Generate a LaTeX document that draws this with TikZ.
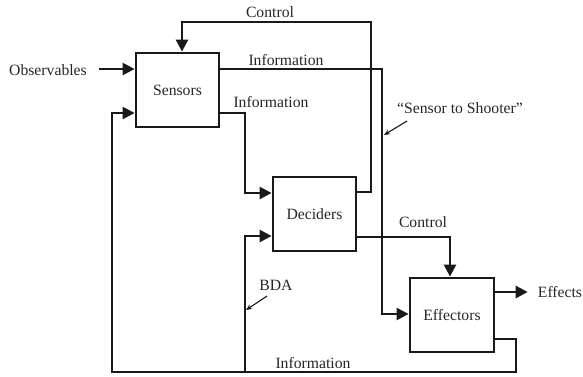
\documentclass[tikz,border=0pt]{standalone}
\usepackage{fontspec}
\setmainfont{Liberation Serif}
\usetikzlibrary{arrows.meta}
\begin{document}
\begin{tikzpicture}[x=1pt,y=-1pt,
  every node/.style={font=\fontsize{15.7}{18}\selectfont, text=black!85},
  blk/.style={draw=black!90, line width=2.8pt, minimum width=83pt, minimum height=74pt, inner sep=0pt},
  arr/.style={draw=black!90, line width=2.5pt, -{Triangle[length=12pt,width=12pt]}},
  ptr/.style={draw=black!90, line width=1.1pt, -{Stealth[length=6pt,width=5pt]}},
  lbl/.style={inner sep=0pt}]
\useasboundingbox (0,0) rectangle (583,376);
% blocks
\node[blk] (sens) at (177.5,90) {Sensors};
\node[blk] (deci) at (314.5,214) {Deciders};
\node[blk, minimum width=84pt] (eff) at (452,315) {Effectors};
% labels
\node[lbl] (obs) at (48,70) {Observables};
\node[lbl] (effects) at (560,292) {Effects};
\node[lbl] (ctl1) at (270,12) {Control};
\node[lbl] (inf1) at (286,60) {Information};
\node[lbl] (inf2) at (271,102) {Information};
\node[lbl] (s2s) at (460,108) {“Sensor to Shooter”};
\node[lbl] (ctl2) at (423,222) {Control};
\node[lbl] (bda) at (276,285) {BDA};
\node[lbl] (inf3) at (313,363) {Information};
% connectors
\draw[arr] ([xshift=12pt]obs.east |- 0,69) -- (sens.west |- 0,69);
\draw[arr] (deci.east |- 0,192) -| (371,22) -| ([xshift=4.5pt]sens.north);
\draw[arr] (sens.east |- 0,69) -| (382,314) -- (eff.west |- 0,314);
\draw[arr] (sens.east |- 0,113) -| (245,193) -- (deci.west |- 0,193);
\draw[arr] (deci.east |- 0,237) -| ([xshift=-2pt]eff.north);
\draw[arr] (eff.east |- 0,292) -- ([xshift=-10pt]effects.west);
\draw[arr] (eff.east |- 0,339) -| (516,372) -| (112,113) -- (sens.west |- 0,113);
\draw[arr] (245,372) |- (deci.west |- 0,236);
% pointers
\draw[ptr] (267,296) -- (246,310);
\draw[ptr] (407,121) -- (384,135);
\end{tikzpicture}
\end{document}
